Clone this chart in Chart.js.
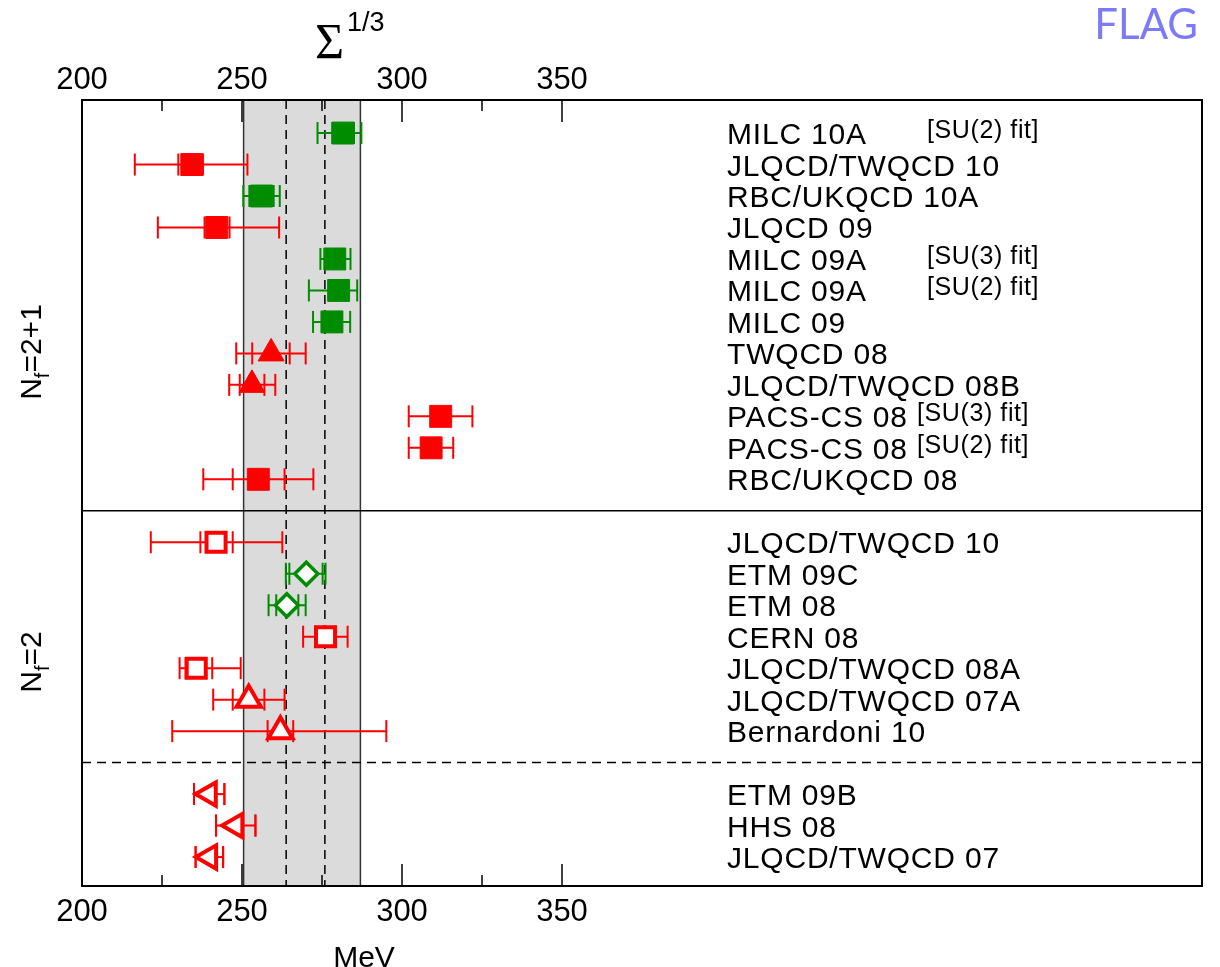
<!DOCTYPE html>
<html>
<head>
<meta charset="utf-8">
<script src="https://cdn.jsdelivr.net/npm/chart.js@4.4.0/dist/chart.umd.min.js"></script>
<style>
  html, body { margin: 0; padding: 0; background: #fff; }
  canvas { display: block; }
</style>
</head>
<body>
<canvas id="chart" width="1220" height="967"></canvas>
<script>
// rows, top to bottom (13 = solid separator, 21 = dashed separator)
const NAMES = [
  "MILC 10A", "JLQCD/TWQCD 10", "RBC/UKQCD 10A", "JLQCD 09", "MILC 09A", "MILC 09A",
  "MILC 09", "TWQCD 08", "JLQCD/TWQCD 08B", "PACS-CS 08", "PACS-CS 08", "RBC/UKQCD 08",
  "JLQCD/TWQCD 10", "ETM 09C", "ETM 08", "CERN 08", "JLQCD/TWQCD 08A", "JLQCD/TWQCD 07A",
  "Bernardoni 10", "ETM 09B", "HHS 08", "JLQCD/TWQCD 07"
];
const NOTES = [
  "[SU(2) fit]", "", "", "", "[SU(3) fit]", "[SU(2) fit]",
  "", "", "", "[SU(3) fit]", "[SU(2) fit]", "",
  "", "", "", "", "", "", "", "", "", ""
];
const ROWS = [1, 2, 3, 4, 5, 6, 7, 8, 9, 10, 11, 12, 14, 15, 16, 17, 18, 19, 20, 22, 23, 24];

const VALUES  = [281.6, 234.3, 256.1, 242.1, 279.0, 280.2, 278.1, 259.1, 253.1, 312.1, 309.1, 255.1,
                 241.9, 270.1, 264.0, 276.1, 235.7, 252.1, 262.0, 239.7, 248.0, 239.8];
const STAT_LO = [278.2, 230.1, 252.3, 238.3, 277.5, 278.0, 277.0, 253.2, 249.3, 309.0, 306.5, 247.1,
                 237.0, 264.8, 260.7, 273.0, 232.4, 247.1, 258.0, 235.0, 241.9, 235.5];
const STAT_HI = [285.0, 237.8, 259.9, 246.1, 280.5, 282.2, 279.5, 264.9, 257.0, 315.0, 311.7, 263.3,
                 247.1, 275.2, 267.6, 279.0, 240.7, 257.0, 266.0, 244.5, 254.2, 244.1];
const TOT_LO  = [273.6, 216.5, 250.4, 223.7, 274.5, 270.9, 272.2, 248.2, 246.0, 302.1, 302.1, 237.9,
                 221.5, 263.7, 258.3, 269.1, 230.5, 241.0, 228.2, 235.0, 241.9, 235.5];
const TOT_HI  = [287.3, 251.7, 261.8, 261.6, 283.9, 286.0, 283.8, 269.9, 260.4, 322.0, 316.0, 272.3,
                 262.6, 276.1, 269.9, 283.0, 249.6, 263.3, 295.1, 244.5, 254.2, 244.1];
const COLOR_KEY = ["g", "r", "g", "r", "g", "g", "g", "r", "r", "r", "r", "r",
                   "r", "g", "g", "r", "r", "r", "r", "r", "r", "r"];
const MARKER = ["sq", "sq", "sq", "sq", "sq", "sq", "sq", "tri", "tri", "sq", "sq", "sq",
                "osq", "dia", "dia", "osq", "osq", "otri", "otri", "ltri", "ltri", "ltri"];

const BAND = [250.5, 287.0];
const DASHED_X = [263.8, 275.9];
const TICKS_MAJOR = [200, 250, 300, 350];
const TICKS_MINOR = [225, 275, 325];

const COLORS = { r: "#ff0000", g: "#008c00" };
const SANS = '"Liberation Sans", Arial, Helvetica, sans-serif';

const STYLE = {
  sq:   { pointStyle: "rect",     radius: 15.5, border: 1,   open: false, rot: 0 },
  tri:  { pointStyle: "triangle", radius: 15,   border: 1,   open: false, rot: 0 },
  osq:  { pointStyle: "rect",     radius: 13.5, border: 4,   open: true,  rot: 0 },
  dia:  { pointStyle: "rectRot",  radius: 11.5, border: 3.5, open: true,  rot: 0 },
  otri: { pointStyle: "triangle", radius: 14,   border: 4,   open: true,  rot: 0 },
  ltri: { pointStyle: "triangle", radius: 13.5, border: 4,   open: true,  rot: -90 }
};

// one dataset per marker + colour
const groups = {};
VALUES.forEach((v, i) => {
  const key = MARKER[i] + "_" + COLOR_KEY[i];
  if (!groups[key]) groups[key] = { m: MARKER[i], c: COLOR_KEY[i], data: [] };
  groups[key].data.push({ x: v, y: ROWS[i] });
});

const datasets = Object.values(groups).map(g => {
  const s = STYLE[g.m];
  const col = COLORS[g.c];
  return {
    data: g.data,
    pointStyle: s.pointStyle,
    pointRadius: s.radius,
    pointRotation: s.rot,
    pointBorderWidth: s.border,
    pointBorderColor: col,
    pointBackgroundColor: s.open ? "#ffffff" : col,
    showLine: false
  };
});

function line(ctx, x0, y0, x1, y1) {
  ctx.beginPath();
  ctx.moveTo(x0, y0);
  ctx.lineTo(x1, y1);
  ctx.stroke();
}

const decor = {
  id: "decor",
  beforeDatasetsDraw(chart) {
    const { ctx, chartArea: a, scales: { x, y } } = chart;
    ctx.save();

    // grey band + its edges
    const b0 = x.getPixelForValue(BAND[0]), b1 = x.getPixelForValue(BAND[1]);
    ctx.fillStyle = "#dbdbdb";
    ctx.fillRect(b0, a.top, b1 - b0, a.bottom - a.top);
    ctx.strokeStyle = "#333";
    ctx.lineWidth = 1.5;
    line(ctx, b0, a.top, b0, a.bottom);
    line(ctx, b1, a.top, b1, a.bottom);

    // dashed verticals
    ctx.strokeStyle = "#000";
    ctx.setLineDash([9, 6]);
    DASHED_X.forEach(v => {
      const px = x.getPixelForValue(v);
      line(ctx, px, a.top, px, a.bottom);
    });

    // dashed separator
    const yd = y.getPixelForValue(21);
    line(ctx, a.left, yd, a.right, yd);
    ctx.setLineDash([]);

    // solid separator
    ctx.lineWidth = 1.5;
    const ys = y.getPixelForValue(13);
    line(ctx, a.left, ys, a.right, ys);

    // error bars
    ctx.lineWidth = 2;
    VALUES.forEach((v, i) => {
      const py = y.getPixelForValue(ROWS[i]);
      ctx.strokeStyle = COLORS[COLOR_KEY[i]];
      const lo = x.getPixelForValue(TOT_LO[i]), hi = x.getPixelForValue(TOT_HI[i]);
      line(ctx, lo, py, hi, py);
      [TOT_LO[i], TOT_HI[i], STAT_LO[i], STAT_HI[i]].forEach(c => {
        const px = x.getPixelForValue(c);
        line(ctx, px, py - 11, px, py + 11);
      });
    });
    ctx.restore();
  },
  afterDraw(chart) {
    const { ctx, chartArea: a, scales: { x, y } } = chart;
    ctx.save();

    // frame
    ctx.strokeStyle = "#000";
    ctx.lineWidth = 2;
    ctx.strokeRect(a.left, a.top, a.right - a.left, a.bottom - a.top);

    // ticks (inward, top and bottom)
    ctx.lineWidth = 1.5;
    TICKS_MAJOR.forEach(t => {
      const px = x.getPixelForValue(t);
      line(ctx, px, a.top, px, a.top + 22);
      line(ctx, px, a.bottom, px, a.bottom - 22);
    });
    TICKS_MINOR.forEach(t => {
      const px = x.getPixelForValue(t);
      line(ctx, px, a.top, px, a.top + 11);
      line(ctx, px, a.bottom, px, a.bottom - 11);
    });

    // tick labels
    ctx.fillStyle = "#000";
    ctx.font = "31px " + SANS;
    ctx.textAlign = "center";
    ctx.textBaseline = "alphabetic";
    TICKS_MAJOR.forEach(t => {
      const px = x.getPixelForValue(t);
      ctx.fillText(String(t), px, 89);
      ctx.fillText(String(t), px, 921);
    });

    // row labels
    ctx.textAlign = "left";
    NAMES.forEach((n, i) => {
      const py = y.getPixelForValue(ROWS[i]);
      ctx.font = "30px " + SANS;
      ctx.letterSpacing = "0.8px";
      ctx.fillText(n, 727, py + 11);
      if (NOTES[i]) {
        ctx.font = "25px " + SANS;
        ctx.letterSpacing = "0.6px";
        const nx = n.startsWith("PACS") ? 917 : 927;
        ctx.fillText(NOTES[i], nx, py + 5);
      }
    });
    ctx.letterSpacing = "0px";

    // N_f labels (rotated)
    function nf(text, cy) {
      ctx.save();
      ctx.translate(41, cy);
      ctx.rotate(-Math.PI / 2);
      ctx.font = "30px " + SANS;
      const wN = ctx.measureText("N").width;
      const wT = ctx.measureText(text).width;
      ctx.font = "20px " + SANS;
      const wF = ctx.measureText("f").width;
      const start = -(wN + wF + wT) / 2;
      ctx.textAlign = "left";
      ctx.font = "30px " + SANS;
      ctx.fillText("N", start, 0);
      ctx.font = "20px " + SANS;
      ctx.fillText("f", start + wN, 8);
      ctx.font = "30px " + SANS;
      ctx.fillText(text, start + wN + wF, 0);
      ctx.restore();
    }
    nf("=2+1", 352);
    nf("=2", 662);

    // axis titles
    ctx.textAlign = "left";
    ctx.font = '50px "Liberation Serif", "Times New Roman", serif';
    ctx.fillText("\u03A3", 315, 58);
    ctx.font = "27px " + SANS;
    ctx.fillText("1/3", 347, 31);
    ctx.font = "30px " + SANS;
    ctx.textAlign = "center";
    ctx.fillText("MeV", 364, 967);

    // FLAG logo
    ctx.textAlign = "right";
    ctx.fillStyle = "#7b7bfa";
    ctx.font = '42px Lato, "Noto Sans", sans-serif';
    ctx.fillText("FLAG", 1198, 39);
    ctx.restore();
  }
};

new Chart(document.getElementById("chart"), {
  type: "scatter",
  data: { datasets },
  options: {
    responsive: false,
    animation: false,
    devicePixelRatio: 1,
    layout: { padding: { left: 82, right: 10, top: 100, bottom: 81 } },
    plugins: { legend: { display: false }, tooltip: { enabled: false } },
    scales: {
      x: { type: "linear", min: 200, max: 550, display: false },
      y: { type: "linear", min: -0.05, max: 24.92, reverse: true, display: false }
    }
  },
  plugins: [decor]
});
</script>
</body>
</html>
